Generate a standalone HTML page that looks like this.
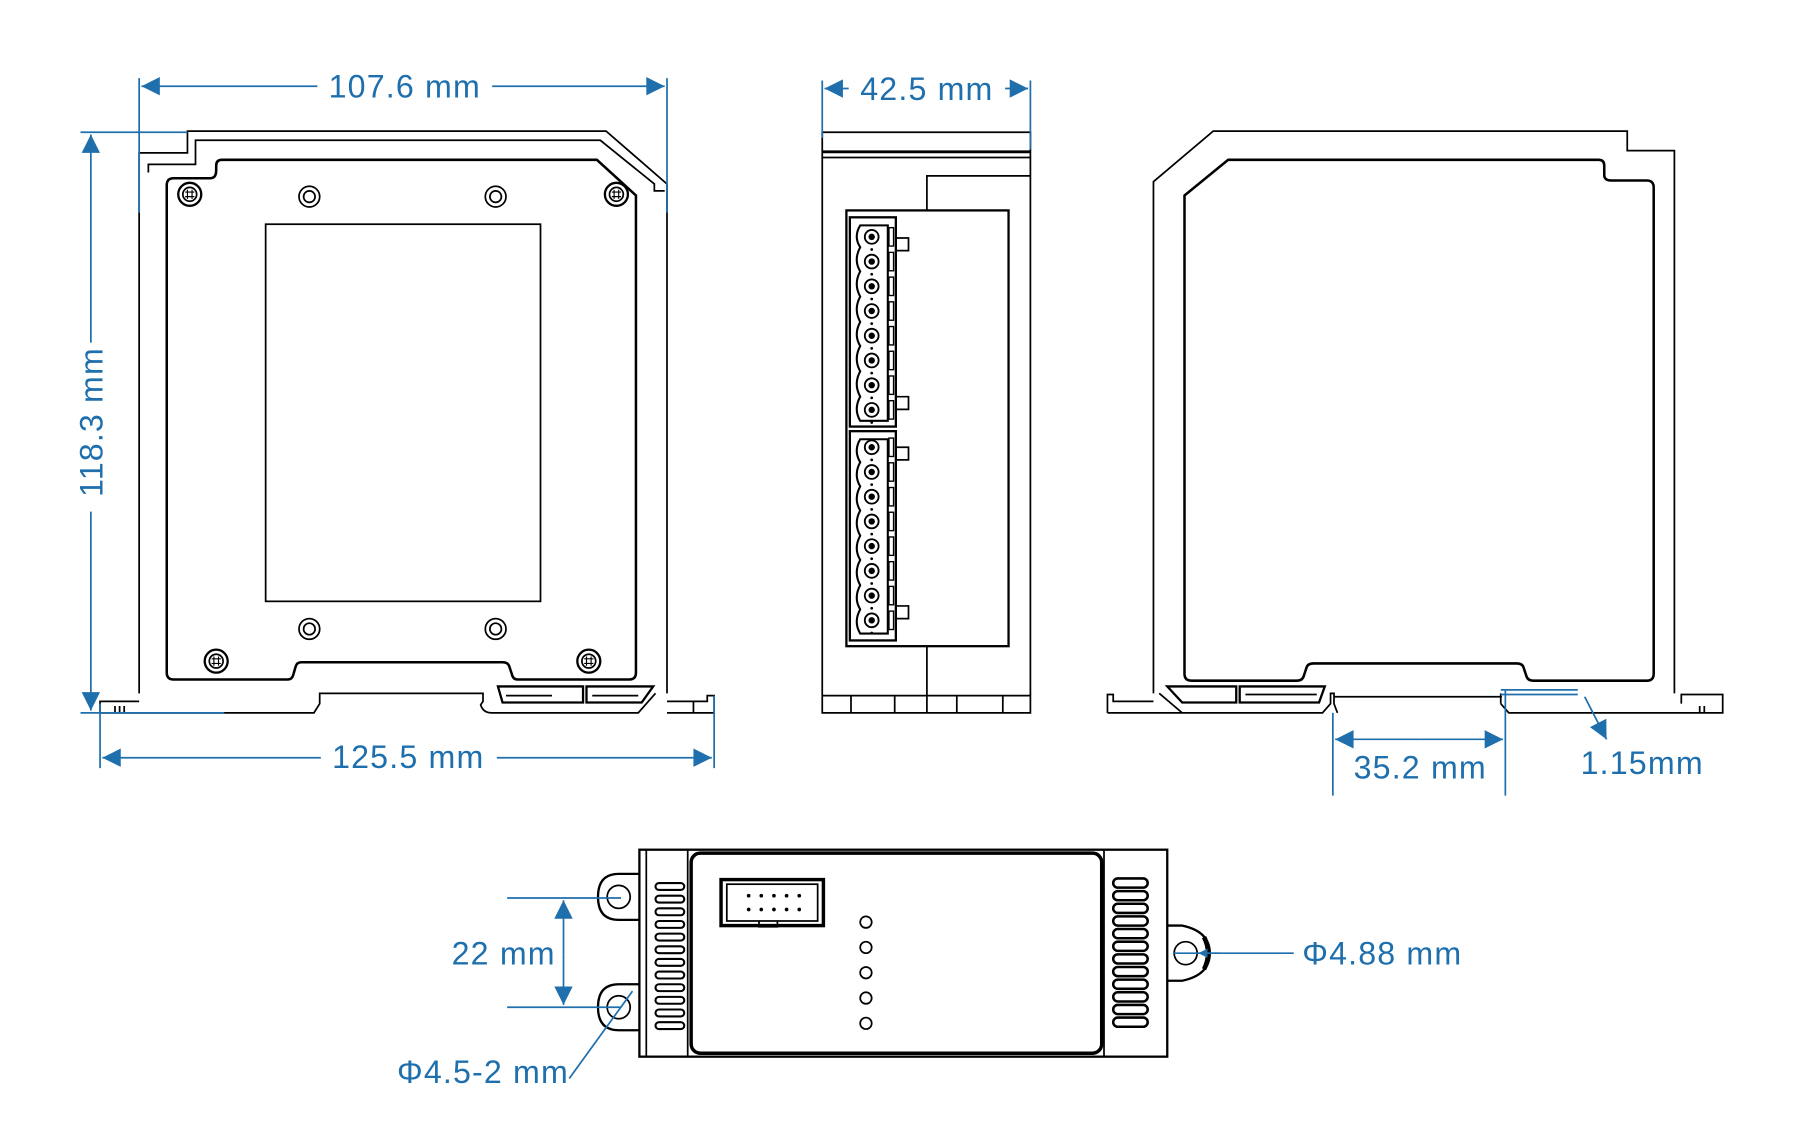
<!DOCTYPE html>
<html><head><meta charset="utf-8"><style>
html,body{margin:0;padding:0;background:#fff;}
svg{display:block;}
text{font-family:"Liberation Sans",sans-serif;fill:#1f6fad;font-size:28px;letter-spacing:1px;}
</style></head><body>
<svg width="1794" height="1136" viewBox="0 0 1560 988" preserveAspectRatio="none" xmlns="http://www.w3.org/2000/svg">
<defs>
<marker id="ar" viewBox="0 0 10 10" refX="10" refY="5" markerWidth="8" markerHeight="8" markerUnits="userSpaceOnUse" orient="auto-start-reverse"><path d="M0,0 L10,5 L0,10 Z" fill="#1f6fad"/></marker>
<marker id="a2" viewBox="0 0 10 10" refX="10" refY="5" markerWidth="20" markerHeight="16" markerUnits="userSpaceOnUse" orient="auto-start-reverse"><path d="M0,0 L10,5 L0,10 Z" fill="#1f6fad"/></marker>
<g id="hs"><circle r="10" fill="#fff" stroke="#000" stroke-width="2"/><circle r="6" fill="none" stroke="#000" stroke-width="1.5"/><path d="M-4,-2H4M-4,2H4M-2,-4V4M2,-4V4" stroke="#000" stroke-width="1"/></g>
<g id="ps"><circle r="9" fill="#fff" stroke="#000" stroke-width="1.5"/><circle r="5" fill="none" stroke="#000" stroke-width="1.5"/></g>
<g id="tc"><circle r="6" fill="#fff" stroke="#000" stroke-width="1.6"/><circle r="2.8" fill="#000"/><circle cy="11" r="1.2" fill="#000"/><rect x="15" y="-8" width="4" height="16" fill="none" stroke="#000" stroke-width="1.2"/></g>
<g id="vl"><rect x="0" y="-3" width="25" height="6" rx="3" fill="none" stroke="#000" stroke-width="1.8"/></g>
<g id="vr"><rect x="0" y="-4" width="30" height="8" rx="4" fill="none" stroke="#000" stroke-width="2.2"/></g>
</defs>
<g fill="none" stroke="#000" stroke-width="1.5">
<path d="M121,603 V133 H163 V114 H527 L580,160 V603"/>
<path d="M129,150 V143 H170 V122 H522 L569,160 V166 H578"/>
<path stroke-width="2.2" d="M151,155 H183 Q188,155 188,148 V144 Q188,139 193,139 H519 L553,170 V585 Q553,591 547,591 H450 Q446,591 445,586 L443,580 Q442,576 437,576 H262 Q258,576 257,580 L255,587 Q254,591 250,591 H151 Q145,591 145,585 V161 Q145,155 151,155 Z"/>
<rect x="231" y="195" width="239" height="328"/>
<path d="M87,620 H273 L278,612 V603 H420 V610 L418,613 Q420,620 428,620 H555 L570,603"/>
<path d="M87,620 V610 H121 M87,610 V620"/>
<path d="M100,620 V614 M104,620 V614 M108,620 V614"/>
<path d="M580,620 H621 V605 H615 V610 H603 V620 M580,610 H603"/>
<path stroke-width="2" d="M433,597 H507 V611 H437 Z M510,597 H568 L558,611 H510 Z"/>
<path d="M440,605 H480 M515,605 H555"/>
<path d="M715,620 V115 H896 V620 Z"/>
<path stroke-width="2.5" d="M715,132 H896"/>
<path d="M715,137 H896"/>
<path d="M806,183 V153 H896"/>
<rect x="736" y="183" width="141" height="379" stroke-width="2"/>
<path d="M806,562 V620 M715,605 H896 M740,605 V620 M778,605 V620 M832,605 V620 M872,605 V620"/>
<rect x="739" y="189" width="40" height="182" stroke-width="2"/>
<rect x="739" y="375" width="40" height="182" stroke-width="2"/>
<path stroke-width="1.8" d="M748,196 Q742,206 748,215 Q742,226 748,236 Q742,247 748,258 Q742,269 748,280 Q742,291 748,301 Q742,312 748,323 Q742,334 748,345 Q742,356 748,366 H772 V196 Z"/>
<path stroke-width="1.8" d="M748,382 Q742,392 748,402 Q742,413 748,423 Q742,434 748,444 Q742,455 748,466 Q742,477 748,487 Q742,498 748,509 Q742,520 748,530 Q742,541 748,551 H772 V382 Z"/>
<path d="M779,207 H790 V218 H779 M779,345 H790 V356 H779 M779,389 H790 V400 H779 M779,527 H790 V538 H779"/>
<path d="M1003,603 V158 L1055,114 H1415 V131 H1456 V603"/>
<path stroke-width="2.2" d="M1068,139 H1390 Q1395,139 1395,144 V152 Q1395,157 1401,157 H1432 Q1438,157 1438,163 V586 Q1438,592 1432,592 H1333 Q1328,592 1327,587 L1325,581 Q1324,577 1319,577 H1142 Q1137,577 1136,581 L1134,587 Q1133,592 1128,592 H1036 Q1030,592 1030,586 V170 Z"/>
<path d="M963,620 V604 H968 V610 H1003 M963,620 H1028 L1008,603 M1028,620 H1150 L1157,612 V603 H1160 V612 L1163,620 M1305,612 V603 M1305,612 L1312,620 H1498 V604 H1462 V612"/>
<path d="M1160,606 H1306"/>
<path stroke-width="2" d="M1015,597 H1075 V611 H1028 Z M1078,597 H1152 L1147,611 H1078 Z"/>
<path d="M1083,604 H1145 M1478,620 V614 M1482,620 V614"/>
<rect x="556" y="739" width="459" height="180" stroke-width="2"/>
<path d="M562,739 V919 M598,739 V919 M960,739 V919"/>
<rect x="601" y="742" width="357" height="174" rx="8" stroke-width="3"/>
<path stroke-width="2" d="M556,760 H538 Q520,760 520,780 Q520,800 538,800 H556 M556,856 H538 Q520,856 520,876 Q520,896 538,896 H556"/>
<circle cx="538" cy="780" r="10"/><circle cx="538" cy="876" r="10"/>
<path stroke-width="2" d="M1015,805 H1028 Q1052,810 1052,829 Q1052,848 1028,853 H1015"/>
<path stroke-width="4" d="M1047,815 Q1054,829 1047,843"/>
<circle cx="1031" cy="829" r="10"/>
<rect x="627" y="765" width="89" height="40" stroke-width="3"/>
<rect x="632" y="769" width="79" height="32"/>
<path d="M660,801 V806 H676 V801"/>
<g fill="#000" stroke="none"><circle cx="651" cy="779" r="1.6"/><circle cx="662" cy="779" r="1.6"/><circle cx="673" cy="779" r="1.6"/><circle cx="684" cy="779" r="1.6"/><circle cx="695" cy="779" r="1.6"/><circle cx="651" cy="791" r="1.6"/><circle cx="662" cy="791" r="1.6"/><circle cx="673" cy="791" r="1.6"/><circle cx="684" cy="791" r="1.6"/><circle cx="695" cy="791" r="1.6"/></g>
<circle cx="753" cy="802" r="5"/><circle cx="753" cy="824" r="5"/><circle cx="753" cy="846" r="5"/><circle cx="753" cy="868" r="5"/><circle cx="753" cy="890" r="5"/>
</g>
<g>
<use href="#hs" x="165" y="169"/><use href="#hs" x="536" y="169"/><use href="#hs" x="188" y="575"/><use href="#hs" x="512" y="575"/>
<use href="#ps" x="269" y="171"/><use href="#ps" x="431" y="171"/><use href="#ps" x="269" y="547"/><use href="#ps" x="431" y="547"/>
<use href="#tc" x="758" y="206"/><use href="#tc" x="758" y="227.5"/><use href="#tc" x="758" y="249"/><use href="#tc" x="758" y="270.5"/><use href="#tc" x="758" y="292"/><use href="#tc" x="758" y="313.5"/><use href="#tc" x="758" y="335"/><use href="#tc" x="758" y="356.5"/>
<use href="#tc" x="758" y="389"/><use href="#tc" x="758" y="410.5"/><use href="#tc" x="758" y="432"/><use href="#tc" x="758" y="453.5"/><use href="#tc" x="758" y="475"/><use href="#tc" x="758" y="496.5"/><use href="#tc" x="758" y="518"/><use href="#tc" x="758" y="539.5"/>
<use href="#vl" x="570" y="771"/><use href="#vl" x="570" y="782"/><use href="#vl" x="570" y="793"/><use href="#vl" x="570" y="804"/><use href="#vl" x="570" y="815"/><use href="#vl" x="570" y="826"/><use href="#vl" x="570" y="837"/><use href="#vl" x="570" y="848"/><use href="#vl" x="570" y="859"/><use href="#vl" x="570" y="870"/><use href="#vl" x="570" y="881"/><use href="#vl" x="570" y="892"/>
<use href="#vr" x="968" y="768"/><use href="#vr" x="968" y="779"/><use href="#vr" x="968" y="790"/><use href="#vr" x="968" y="801"/><use href="#vr" x="968" y="812"/><use href="#vr" x="968" y="823"/><use href="#vr" x="968" y="834"/><use href="#vr" x="968" y="845"/><use href="#vr" x="968" y="856"/><use href="#vr" x="968" y="867"/><use href="#vr" x="968" y="878"/><use href="#vr" x="968" y="889"/>
</g>
<g stroke="#1f6fad" stroke-width="1.5" fill="none">
<path d="M121,68 V185 M580,68 V185"/>
<path d="M276,75 H123" marker-end="url(#a2)"/>
<path d="M428,75 H578" marker-end="url(#a2)"/>
<path d="M70,115 H163 M70,620 H195"/>
<path d="M79,298 V117" marker-end="url(#a2)"/>
<path d="M79,445 V618" marker-end="url(#a2)"/>
<path d="M87,612 V668 M621,605 V668"/>
<path d="M279,659 H89" marker-end="url(#a2)"/>
<path d="M432,659 H619" marker-end="url(#a2)"/>
<path d="M715,70 V120 M896,70 V130"/>
<path d="M738,77 H717" marker-end="url(#a2)"/>
<path d="M874,77 H894" marker-end="url(#a2)"/>
<path d="M1159,620 V692 M1309,600 V692"/>
<path d="M1234,643 H1161" marker-end="url(#a2)"/>
<path d="M1234,643 H1307" marker-end="url(#a2)"/>
<path d="M1305,600 H1372 M1305,604 H1372"/>
<path d="M1378,606 L1397,643" marker-end="url(#a2)"/>
<path d="M441,781 H540 M441,876 H540"/>
<path d="M490,830 V783" marker-end="url(#a2)"/>
<path d="M490,830 V874" marker-end="url(#a2)"/>
<path d="M495,938 L550,862"/>
<path d="M1125,829 H1020"/>
<path d="M1060,829 H1042" marker-end="url(#ar)"/>
</g>
<text x="352" y="85" text-anchor="middle">107.6 mm</text>
<text x="806" y="87" text-anchor="middle">42.5 mm</text>
<text transform="translate(89,367) rotate(-90)" text-anchor="middle">118.3 mm</text>
<text x="355" y="668" text-anchor="middle">125.5 mm</text>
<text x="1235" y="677" text-anchor="middle">35.2 mm</text>
<text x="1428" y="673" text-anchor="middle">1.15mm</text>
<text x="438" y="839" text-anchor="middle">22 mm</text>
<text x="420" y="942" text-anchor="middle">Φ4.5-2 mm</text>
<text x="1202" y="839" text-anchor="middle">Φ4.88 mm</text>
</svg>
</body></html>
